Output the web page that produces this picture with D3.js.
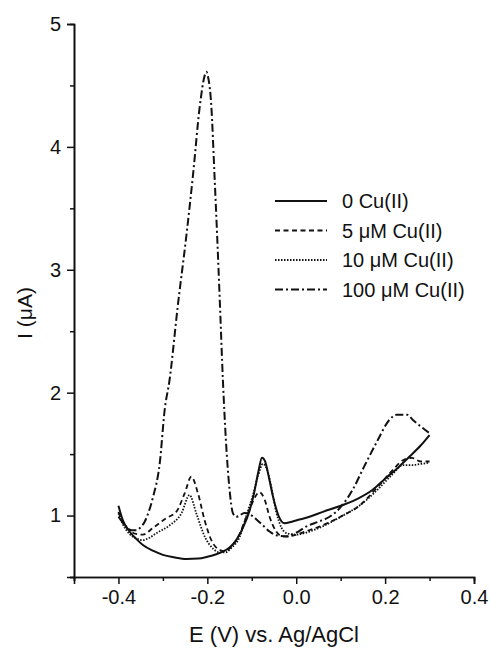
<!DOCTYPE html>
<html lang="en">
<head>
	<meta charset="UTF-8">
	<title>Cu(II) voltammogram</title>
	<style>
		body { margin: 0; background: #fff; }
		text { font-family: Arial, "Liberation Sans", sans-serif; fill: #111; }
	</style>
</head>
<body>
	<script src="https://d3js.org/d3.v7.min.js"></script>
	<script type="text/javascript">
		// data: [E (V), I (uA)]
		var cu0 = [[-0.400,1.08],[-0.390,0.96],[-0.375,0.87],[-0.360,0.81],[-0.345,0.76],[-0.320,0.71],[-0.300,0.68],[-0.275,0.66],[-0.247,0.646],[-0.220,0.650],[-0.200,0.665],[-0.180,0.685],[-0.165,0.706],[-0.150,0.74],[-0.135,0.80],[-0.120,0.90],[-0.105,1.04],[-0.095,1.18],[-0.085,1.36],[-0.077,1.47],[-0.070,1.44],[-0.062,1.32],[-0.052,1.15],[-0.040,1.00],[-0.026,0.937],[-0.010,0.95],[0.010,0.97],[0.030,0.99],[0.060,1.03],[0.105,1.086],[0.140,1.14],[0.172,1.21],[0.200,1.30],[0.232,1.40],[0.255,1.48],[0.280,1.57],[0.300,1.655]];
		var cu5 = [[-0.400,1.03],[-0.390,0.94],[-0.375,0.88],[-0.360,0.85],[-0.345,0.845],[-0.322,0.90],[-0.292,0.98],[-0.270,1.03],[-0.251,1.18],[-0.236,1.316],[-0.221,1.18],[-0.206,0.96],[-0.191,0.80],[-0.172,0.72],[-0.160,0.71],[-0.145,0.75],[-0.130,0.83],[-0.112,0.99],[-0.098,1.11],[-0.083,1.19],[-0.071,1.13],[-0.060,0.99],[-0.045,0.87],[-0.030,0.83],[-0.010,0.835],[0.020,0.87],[0.052,0.91],[0.105,1.00],[0.142,1.08],[0.180,1.22],[0.217,1.37],[0.240,1.45],[0.260,1.47],[0.280,1.44],[0.300,1.44]];
		var cu10 = [[-0.400,1.02],[-0.390,0.93],[-0.375,0.85],[-0.360,0.815],[-0.345,0.80],[-0.330,0.82],[-0.315,0.856],[-0.285,0.92],[-0.258,1.02],[-0.240,1.167],[-0.225,1.02],[-0.206,0.83],[-0.187,0.73],[-0.172,0.70],[-0.160,0.70],[-0.145,0.74],[-0.128,0.82],[-0.112,1.00],[-0.098,1.16],[-0.086,1.32],[-0.075,1.42],[-0.066,1.38],[-0.057,1.25],[-0.045,1.03],[-0.033,0.90],[-0.020,0.855],[0.000,0.845],[0.030,0.87],[0.052,0.90],[0.105,1.00],[0.142,1.08],[0.180,1.20],[0.215,1.33],[0.240,1.41],[0.260,1.41],[0.280,1.42],[0.300,1.43]];
		var cu100 = [[-0.400,0.99],[-0.385,0.92],[-0.370,0.88],[-0.360,0.88],[-0.350,0.905],[-0.341,0.95],[-0.332,1.03],[-0.322,1.153],[-0.307,1.428],[-0.296,1.859],[-0.285,2.103],[-0.267,2.69],[-0.247,3.283],[-0.232,3.78],[-0.217,4.33],[-0.206,4.58],[-0.202,4.611],[-0.199,4.58],[-0.191,4.33],[-0.184,3.78],[-0.178,3.283],[-0.172,2.75],[-0.165,2.103],[-0.158,1.60],[-0.150,1.21],[-0.1425,1.02],[-0.135,0.99],[-0.116,1.02],[-0.100,1.00],[-0.090,0.97],[-0.075,0.92],[-0.060,0.87],[-0.045,0.84],[-0.022,0.83],[0.000,0.86],[0.022,0.91],[0.050,0.95],[0.075,0.99],[0.105,1.09],[0.127,1.21],[0.153,1.40],[0.180,1.59],[0.210,1.78],[0.225,1.82],[0.250,1.82],[0.262,1.78],[0.300,1.67]];

		var seriesNames = ["0 Cu(II)", "5 \u03bcM Cu(II)", "10 \u03bcM Cu(II)", "100 \u03bcM Cu(II)"];
		var seriesData = [cu0, cu5, cu10, cu100];
		var xTicks = [-0.4, -0.2, 0.0, 0.2, 0.4];
		var xMinor = [-0.5, -0.3, -0.1, 0.1, 0.3];
		var yTicks = [1, 2, 3, 4, 5];
		var yMinor = [0.5, 1.5, 2.5, 3.5, 4.5];

		// line styles per series
		var dashes = [null, "5,3.5", "1.5,1.5", "8,3,2,3"];
		var widths = [2, 1.8, 1.8, 2];

		var W = 490, H = 654;
		var svg = d3.select("body").append("svg").attr("width", W).attr("height", H);

		var x = d3.scaleLinear().domain([-0.5, 0.4]).range([74, 474]);
		var y = d3.scaleLinear().domain([0.5, 5]).range([577, 24]);

		// plain hyphen for negative labels, like the original
		var fmtX = function(d){ return d3.format(".1f")(d).replace("\u2212", "-"); };

		// axes (minor ticks first, major on top)
		var xAxis = svg.append("g").attr("transform", "translate(0," + y(0.5) + ")");
		xAxis.append("g").call(d3.axisBottom(x).tickValues(xMinor).tickFormat(function(){ return ""; }).tickSize(4));
		xAxis.append("g").call(d3.axisBottom(x).tickValues(xTicks).tickFormat(fmtX).tickSize(7).tickPadding(6));

		var yAxis = svg.append("g").attr("transform", "translate(" + x(-0.5) + ",0)");
		yAxis.append("g").call(d3.axisLeft(y).tickValues(yMinor).tickFormat(function(){ return ""; }).tickSize(4));
		yAxis.append("g").call(d3.axisLeft(y).tickValues(yTicks).tickFormat(d3.format("d")).tickSize(7).tickPadding(6));

		svg.selectAll(".domain").attr("stroke", "#111").attr("stroke-width", 1.6);
		svg.selectAll(".tick line").attr("stroke", "#111").attr("stroke-width", 1.5);
		svg.selectAll(".tick text").style("font-size", "20px").attr("fill", "#111")
			.style("font-family", "Arial, 'Liberation Sans', sans-serif");

		// axis titles
		svg.append("text").attr("x", (x(-0.5) + x(0.4)) / 2).attr("y", 642)
			.attr("text-anchor", "middle").style("font-size", "22px")
			.text("E (V) vs. Ag/AgCl");
		svg.append("text").attr("transform", "translate(32," + 313 + ") rotate(-90)")
			.attr("text-anchor", "middle").style("font-size", "21px")
			.text("I (\u03bcA)");

		// curves
		var line = d3.line()
			.x(function(d){ return x(d[0]); })
			.y(function(d){ return y(d[1]); })
			.curve(d3.curveMonotoneX);

		svg.selectAll("path.curve").data(seriesData).enter().append("path")
			.attr("class", "curve")
			.attr("d", line)
			.attr("fill", "none")
			.attr("stroke", "#111")
			.attr("stroke-width", function(d, i){ return widths[i]; })
			.attr("stroke-dasharray", function(d, i){ return dashes[i]; });

		// legend
		var legend = svg.append("g");
		var rows = legend.selectAll("g").data(seriesNames).enter().append("g")
			.attr("transform", function(d, i){ return "translate(0," + (201 + i * 29.5) + ")"; });
		rows.append("line").attr("x1", 275).attr("x2", 327).attr("y1", 0).attr("y2", 0)
			.attr("stroke", "#111")
			.attr("stroke-width", function(d, i){ return widths[i]; })
			.attr("stroke-dasharray", function(d, i){ return dashes[i]; });
		rows.append("text").attr("x", 342).attr("y", 7).style("font-size", "20px")
			.text(function(d){ return d; });
	</script>
</body>
</html>
